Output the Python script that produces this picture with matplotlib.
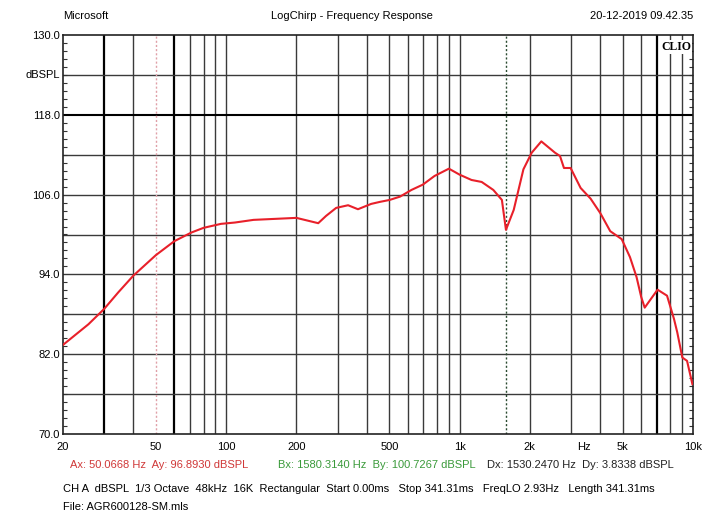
import matplotlib
matplotlib.use("Agg")
import matplotlib.pyplot as plt
import numpy as np
from matplotlib.ticker import FixedLocator, NullFormatter

plt.rcParams['font.family'] = ['Liberation Sans Narrow', 'Liberation Sans', 'DejaVu Sans']

# Frequency response data (Hz, dBSPL)
freq = [20, 25.7, 30, 34.5, 40, 50, 60, 71, 80, 95, 109, 131, 200, 248, 268, 296,
        333, 367, 418, 455, 502, 556, 622, 696, 781, 900, 1000, 1125, 1244, 1395,
        1518, 1580, 1706, 1877, 2037, 2240, 2563, 2693, 2800, 2990, 3300, 3640,
        4010, 4420, 4950, 5370, 5730, 6000, 6210, 6600, 7050, 7740, 8290, 8560,
        9000, 9430, 9940]
spl = [83.4, 86.5, 88.8, 91.3, 93.8, 96.9, 99.0, 100.3, 101.0, 101.6, 101.8, 102.2,
       102.5, 101.7, 102.8, 104.0, 104.4, 103.8, 104.6, 104.9, 105.2, 105.7, 106.7,
       107.5, 108.8, 109.9, 109.0, 108.2, 107.9, 106.7, 105.2, 100.7, 103.7, 109.8,
       112.3, 114.0, 112.3, 111.8, 110.0, 110.0, 107.0, 105.4, 103.2, 100.5, 99.3,
       96.6, 93.6, 90.6, 89.0, 90.3, 91.7, 90.8, 87.3, 85.3, 81.5, 81.0, 77.5]

x_tick_vals = [20, 50, 100, 200, 500, 1000, 2000, 5000, 10000]
x_tick_labels = ['20', '50', '100', '200', '500', '1k', '2k', '5k', '10k']
y_tick_vals = [130, 118, 106, 94, 82, 70]
y_tick_labels = ['130.0', '118.0', '106.0', '94.0', '82.0', '70.0']

cursor_a = 50.0668
cursor_b = 1580.314

fig = plt.figure(figsize=(7.04, 5.12), dpi=100)
ax = fig.add_axes([63/704, 1 - 434/512, 630/704, 399/512])
ax.set_xscale('log')
ax.set_xlim(20, 10000)
ax.set_ylim(70, 130)

# grid
grid_freqs = []
for dec in [10, 100, 1000]:
    for m in range(1, 10):
        f = m * dec
        if 20 < f < 10000:
            grid_freqs.append(f)
thick = {30, 60, 7000}
for f in grid_freqs:
    if abs(f - 50) < 1:
        continue
    if f in thick:
        ax.axvline(f, color='black', lw=1.6, zorder=1)
    else:
        ax.axvline(f, color='#3a3a3a', lw=1.0, zorder=1)
for yv in np.arange(76, 130, 6):
    if yv == 118:
        ax.axhline(yv, color='black', lw=1.5, zorder=1)
    else:
        ax.axhline(yv, color='#3a3a3a', lw=1.0, zorder=1)

# cursors
ax.axvline(cursor_a, color='#e0a0a8', lw=1.0, ls=(0, (1.5, 1.5)), zorder=1)
ax.axvline(cursor_b, color='#2a4a30', lw=1.0, ls=(0, (1.5, 1.5)), zorder=1)

ax.plot(freq, spl, color='#e8202a', lw=1.5, zorder=3)

for s in ax.spines.values():
    s.set_color('#222222')
    s.set_linewidth(1.2)

ax.xaxis.set_major_locator(FixedLocator(x_tick_vals))
ax.set_xticklabels(x_tick_labels)
ax.xaxis.set_minor_formatter(NullFormatter())
ax.xaxis.set_minor_locator(FixedLocator([]))
ax.tick_params(axis='x', which='major', length=0, pad=6, labelsize=8)

ax.set_yticks(y_tick_vals)
ax.set_yticklabels(y_tick_labels)
ax.yaxis.set_minor_locator(FixedLocator(np.arange(70, 130.01, 1.2)))
ax.tick_params(axis='y', which='major', length=0, pad=2, labelsize=8)
ax.tick_params(axis='y', which='minor', direction='in', length=3, width=0.8,
               left=True, right=True, color='#333333')

ax.text(-0.005, 124, 'dBSPL', transform=ax.get_yaxis_transform(), ha='right',
        va='center', fontsize=8)
ax.text(3400, -0.021, 'Hz', transform=ax.get_xaxis_transform(), ha='center',
        va='top', fontsize=8)
ax.text(0.998, 0.985, 'CLIO', transform=ax.transAxes, ha='right', va='top',
        fontsize=8.5, fontweight='bold', family=['Liberation Serif', 'DejaVu Serif'],
        zorder=5, bbox=dict(facecolor='white', edgecolor='none', pad=0.5))

# header
fig.text(63/704, 1 - 16/512, 'Microsoft', ha='left', va='center', fontsize=8)
fig.text(352/704, 1 - 16/512, 'LogChirp - Frequency Response', ha='center', va='center', fontsize=8)
fig.text(693/704, 1 - 16/512, '20-12-2019 09.42.35', ha='right', va='center', fontsize=8)

# cursor readouts
fig.text(70/704, 1 - 465/512, 'Ax: 50.0668 Hz  Ay: 96.8930 dBSPL', color='#d03838',
         ha='left', va='center', fontsize=8)
fig.text(278/704, 1 - 465/512, 'Bx: 1580.3140 Hz  By: 100.7267 dBSPL', color='#3a9a3a',
         ha='left', va='center', fontsize=8)
fig.text(487/704, 1 - 465/512, 'Dx: 1530.2470 Hz  Dy: 3.8338 dBSPL', color='#222222',
         ha='left', va='center', fontsize=8)
fig.text(63/704, 1 - 489/512,
         'CH A  dBSPL  1/3 Octave  48kHz  16K  Rectangular  Start 0.00ms   Stop 341.31ms   FreqLO 2.93Hz   Length 341.31ms',
         ha='left', va='center', fontsize=8)
fig.text(63/704, 1 - 507/512, 'File: AGR600128-SM.mls', ha='left', va='center', fontsize=8)

fig.savefig('out.png', dpi=100, facecolor='white')
